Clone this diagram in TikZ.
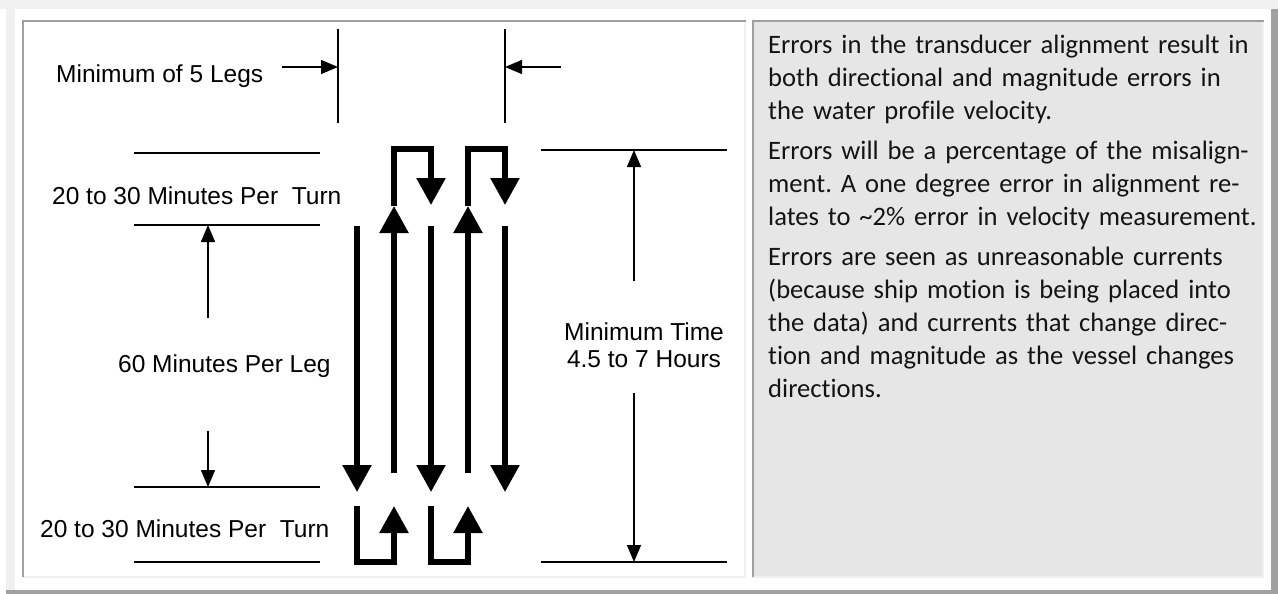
\documentclass[tikz,border=0pt]{standalone}
\usepackage{fontspec}
\setmainfont{Liberation Sans}
\newfontfamily\notefont[Ligatures=NoCommon]{Carlito}
\usetikzlibrary{arrows.meta, positioning, calc}
\definecolor{framegray}{RGB}{240, 240, 240}
\definecolor{edgegray}{RGB}{160, 160, 160}
\definecolor{notegray}{RGB}{230, 230, 230}
\definecolor{notetext}{RGB}{20, 20, 20}
\tikzset{
  guideline/.style={line width=2pt},
  extline/.style={line width=1.4pt},
  dimarrow/.style={line width=1.4pt, -{Triangle[length=17pt, width=14pt]}},
  legarrow/.style={line width=5.5pt, -{Triangle[length=27pt, width=28pt]}},
  turnarrow/.style={line width=5.5pt, miter limit=4, -{Triangle[length=27pt, width=28pt]}},
  dimtext/.style={font=\fontsize{24.5}{27}\selectfont, inner sep=0pt, anchor=base west},
}
\frenchspacing

\begin{document}
\begin{tikzpicture}[x=1pt, y=-1pt]
  \useasboundingbox (0,0) rectangle (1278,594);

  % Page frame
  \fill[white] (0,0) rectangle (1278,594);
  \fill[framegray] (0,0) rectangle (1278,9);
  \fill[framegray] (6,9) rectangle (15,590);
  \fill[edgegray] (6,590) rectangle (1278,594);
  \fill[edgegray] (1271,9) rectangle (1278,590);

  % Left panel
  \fill[framegray] (22,20) rectangle (746,578);
  \fill[white] (24,22) rectangle (744,576);
  \fill[edgegray] (22,20) rectangle (746,22);
  \fill[edgegray] (22,20) rectangle (24,577);

  % Right panel
  \fill[framegray] (752,20) rectangle (1264,578);
  \fill[notegray] (754,22) rectangle (1262,576);
  \fill[edgegray] (752,20) rectangle (1264,22);
  \fill[edgegray] (752,20) rectangle (754,577);

  % Guide lines
  \draw[guideline] (134,153) coordinate (turntopA) -- (320,153);
  \draw[guideline] (134,225) coordinate (legtop) -- (320,225);
  \draw[guideline] (134,487) coordinate (legbot) -- (320,487);
  \draw[guideline] (134,562) coordinate (turnbotA) -- (320,562);
  \draw[guideline] (541,150) coordinate (timetop) -- (727,150);
  \draw[guideline] (541,562) coordinate (timebot) -- (727,562);

  % Extension lines for the legs width
  \draw[extline] (338,29) coordinate (wideL) -- (338,123);
  \draw[extline] (505,29) coordinate (wideR) -- (505,123);
  \coordinate (wideLtip) at (338,67);
  \coordinate (wideRtip) at (505,67);
  \coordinate (wideLtail) at (282,67);
  \coordinate (wideRtail) at (561,67);
  \draw[dimarrow] (wideLtail) -- (wideLtip);
  \draw[dimarrow] (wideRtail) -- (wideRtip);

  % Labels
  \node[dimtext] (legs) at (56,83) {Minimum of 5 Legs};
  \node[dimtext] (turntop) at (52,204) {20 to 30 Minutes Per\ \ Turn};
  \node[dimtext] (leglen) at (118,372) {60 Minutes Per Leg};
  \node[dimtext] (turnbot) at (40,537) {20 to 30 Minutes Per\ \ Turn};
  \node[dimtext, anchor=base, align=center] (mintime) at (644,367) {Minimum Time\\4.5 to 7 Hours};

  % Leg length arrows
  \coordinate (leglenA) at (208,318);
  \coordinate (leglenB) at (208,431);
  \draw[dimarrow] (leglenA) -- (208,225);
  \draw[dimarrow] (leglenB) -- (208,487);

  % Total time arrows
  \coordinate (timeA) at (634,281);
  \coordinate (timeB) at (634,393);
  \draw[dimarrow] (timeA) -- (634,150);
  \draw[dimarrow] (timeB) -- (634,562);

  % Legs
  \foreach \x in {357, 431, 505}
    \draw[legarrow] (\x,226) -- (\x,492);
  \foreach \x in {394, 468}
    \draw[legarrow] (\x,473) -- (\x,206);

  % Turns
  \foreach \x in {394, 468}
    \draw[turnarrow] (\x,206) -- (\x,149) -- (\x+37,149) -- (\x+37,205);
  \foreach \x in {357, 431}
    \draw[turnarrow] (\x,506) -- (\x,562) -- (\x+37,562) -- (\x+37,506);

  % Notes
  \node[notetext, font=\notefont\fontsize{26.6}{33}\selectfont, text width=500pt, align=left, inner sep=0pt, anchor=base west] (note) at (768,54) {%
    Errors in the transducer alignment result in\\
    both directional and magnitude errors in\\
    the water profile velocity.\\[7pt]
    Errors will be a percentage of the misalign-\\
    ment. A one degree error in alignment re-\\
    lates to \textasciitilde 2\% error in velocity measurement.\\[7pt]
    Errors are seen as unreasonable currents\\
    (because ship motion is being placed into\\
    the data) and currents that change direc-\\
    tion and magnitude as the vessel changes\\
    directions.};
\end{tikzpicture}
\end{document}
